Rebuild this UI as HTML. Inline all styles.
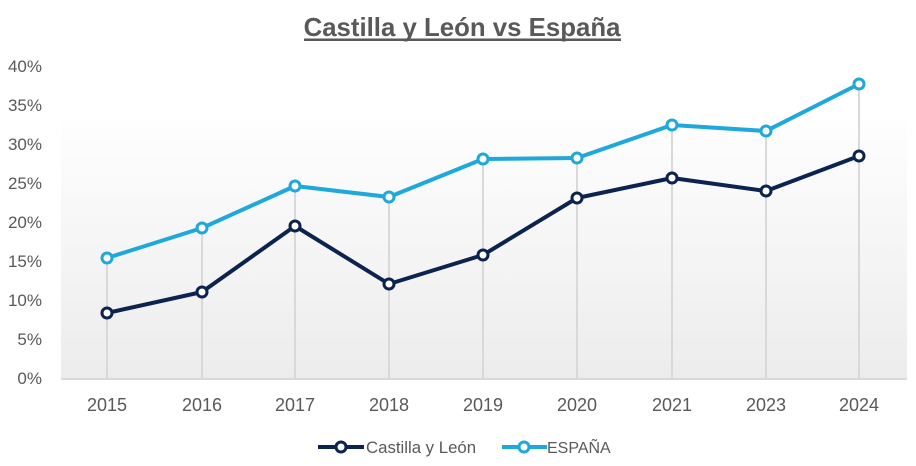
<!DOCTYPE html>
<html><head><meta charset="utf-8"><style>
html,body{margin:0;padding:0;background:#fff;}
svg{display:block;}
</style></head><body>
<svg width="916" height="466" viewBox="0 0 916 466" xmlns="http://www.w3.org/2000/svg">
<defs>
<linearGradient id="bg" x1="0" y1="0" x2="0" y2="1">
<stop offset="0" stop-color="#fefefe"/>
<stop offset="1" stop-color="#ececec"/>
</linearGradient>
</defs>
<rect x="0" y="0" width="916" height="466" fill="#fff"/>
<rect x="61" y="120" width="846" height="259" fill="url(#bg)"/>
<text x="462" y="36" text-anchor="middle" font-family="Liberation Sans, Arial, sans-serif" font-weight="bold" font-size="25.8" fill="#595959">Castilla y León vs España</text>
<rect x="304" y="38.5" width="317" height="2.5" fill="#595959"/>
<g font-family="Liberation Sans, Arial, sans-serif" font-size="17" fill="#595959" text-anchor="end">
<text x="42" y="72">40%</text>
<text x="42" y="111">35%</text>
<text x="42" y="150">30%</text>
<text x="42" y="189">25%</text>
<text x="42" y="228">20%</text>
<text x="42" y="267">15%</text>
<text x="42" y="306">10%</text>
<text x="42" y="345">5%</text>
<text x="42" y="384">0%</text>
</g>
<g stroke="#d9d9d9" stroke-width="2">
<line x1="107" y1="258" x2="107" y2="378"/>
<line x1="202" y1="228" x2="202" y2="378"/>
<line x1="295" y1="186" x2="295" y2="378"/>
<line x1="389" y1="197" x2="389" y2="378"/>
<line x1="483" y1="159" x2="483" y2="378"/>
<line x1="577" y1="158" x2="577" y2="378"/>
<line x1="672" y1="125" x2="672" y2="378"/>
<line x1="766" y1="131" x2="766" y2="378"/>
<line x1="859" y1="84" x2="859" y2="378"/>
</g>
<line x1="61" y1="379" x2="907" y2="379" stroke="#d9d9d9" stroke-width="2"/>
<g font-family="Liberation Sans, Arial, sans-serif" font-size="18" fill="#595959" text-anchor="middle">
<text x="107" y="411">2015</text>
<text x="202" y="411">2016</text>
<text x="295" y="411">2017</text>
<text x="389" y="411">2018</text>
<text x="483" y="411">2019</text>
<text x="577" y="411">2020</text>
<text x="672" y="411">2021</text>
<text x="766" y="411">2023</text>
<text x="859" y="411">2024</text>
</g>
<polyline fill="none" stroke="#1fa8dc" stroke-width="4" stroke-linejoin="round" points="107,258 202,228 295,186 389,197 483,159 577,158 672,125 766,131 859,84"/>
<g fill="#fff" stroke="#1fa8dc" stroke-width="3">
<circle cx="107" cy="258" r="5"/><circle cx="202" cy="228" r="5"/><circle cx="295" cy="186" r="5"/><circle cx="389" cy="197" r="5"/><circle cx="483" cy="159" r="5"/><circle cx="577" cy="158" r="5"/><circle cx="672" cy="125" r="5"/><circle cx="766" cy="131" r="5"/><circle cx="859" cy="84" r="5"/>
</g>
<polyline fill="none" stroke="#0c2350" stroke-width="4" stroke-linejoin="round" points="107,313 202,292 295,226 389,284 483,255 577,198 672,178 766,191 859,156"/>
<g fill="#fff" stroke="#0c2350" stroke-width="3">
<circle cx="107" cy="313" r="5"/><circle cx="202" cy="292" r="5"/><circle cx="295" cy="226" r="5"/><circle cx="389" cy="284" r="5"/><circle cx="483" cy="255" r="5"/><circle cx="577" cy="198" r="5"/><circle cx="672" cy="178" r="5"/><circle cx="766" cy="191" r="5"/><circle cx="859" cy="156" r="5"/>
</g>
<line x1="318" y1="447" x2="364" y2="447" stroke="#0c2350" stroke-width="4"/>
<circle cx="341" cy="447" r="5" fill="#fff" stroke="#0c2350" stroke-width="3"/>
<text x="366" y="453" font-family="Liberation Sans, Arial, sans-serif" font-size="16.8" fill="#595959">Castilla y León</text>
<line x1="502" y1="447" x2="547" y2="447" stroke="#1fa8dc" stroke-width="4"/>
<circle cx="524" cy="447" r="5" fill="#fff" stroke="#1fa8dc" stroke-width="3"/>
<text x="547" y="453" font-family="Liberation Sans, Arial, sans-serif" font-size="16" fill="#595959">ESPAÑA</text>
</svg>
</body></html>
